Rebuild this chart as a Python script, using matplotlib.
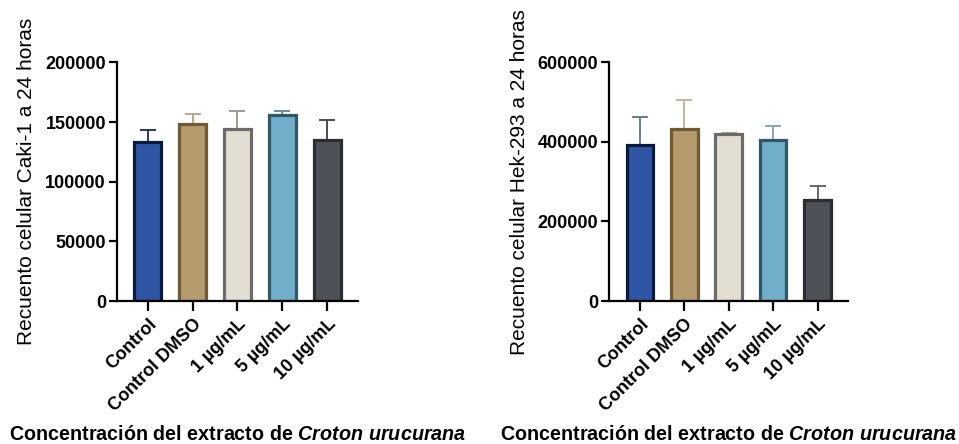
import numpy as np
import matplotlib.pyplot as plt

plt.rcParams['font.family'] = ['Liberation Sans', 'DejaVu Sans']
plt.rcParams['mathtext.fontset'] = 'custom'
plt.rcParams['mathtext.it'] = 'Liberation Sans:italic:bold'
plt.rcParams['mathtext.rm'] = 'Liberation Sans:bold'
plt.rcParams['mathtext.bf'] = 'Liberation Sans:bold'

groups = ['Control', 'Control DMSO', '1 µg/mL', '5 µg/mL', '10 µg/mL']

caki_mean = [133000, 148000, 144000, 155500, 135000]
caki_sem = [10000, 9000, 15000, 3500, 17000]

hek_mean = [391000, 432000, 421000, 405000, 255000]
hek_sem = [72000, 74000, 2000, 35000, 35000]

fill_colors = ['#2E56A4', '#B59A6D', '#E2DED3', '#70AECA', '#4E5157']
edge_colors = ['#0B1A3A', '#6F5A34', '#6C6B68', '#315866', '#2B2D30']
err_colors_left = ['#2A3B5E', '#B9A888', '#A09C95', '#6E8C98', '#4A4B4E']
err_colors_right = ['#6A7A98', '#C4B49A', '#A8A49C', '#8AA6B1', '#66676A']


def draw_panel(ax, means, errs, err_colors, ymax, yticks, ylabel):
    x = np.arange(len(groups))
    for i in range(len(groups)):
        ax.errorbar(x[i], means[i], yerr=[[0], [errs[i]]], color=err_colors[i],
                    elinewidth=1.4, capsize=5.5, capthick=1.4, zorder=1)
    ax.bar(x, means, width=0.6, color=fill_colors, edgecolor=edge_colors,
           linewidth=2.3, zorder=2)

    ax.set_xlim(-0.69, 4.69)
    ax.set_ylim(0, ymax)
    ax.set_yticks(yticks)
    ax.set_yticklabels([str(t) for t in yticks], fontweight='bold', fontsize=13)
    ax.set_xticks(x)
    ax.set_xticklabels(groups, rotation=45, ha='right', rotation_mode='anchor',
                       fontweight='bold', fontsize=13)

    for side in ['top', 'right']:
        ax.spines[side].set_visible(False)
    for side in ['left', 'bottom']:
        ax.spines[side].set_linewidth(1.6)
    ax.tick_params(axis='y', length=6, width=1.6, pad=2)
    ax.tick_params(axis='x', length=7.5, width=1.6, pad=3)

    ax.set_ylabel(ylabel, fontsize=15)
    ax.yaxis.set_label_coords(-0.335, 0.5)
    ax.set_xlabel('Concentración del extracto de $\\it{Croton\\ urucurana}$',
                  fontsize=14.2, fontweight='bold')
    ax.xaxis.set_label_coords(0.5, -0.52)


fig = plt.figure(figsize=(9.59, 4.44), dpi=100)
ax1 = fig.add_axes([0.122, 0.322, 0.2513, 0.5376])
ax2 = fig.add_axes([0.6353, 0.322, 0.2492, 0.5376])

draw_panel(ax1, caki_mean, caki_sem, err_colors_left, 200000,
           [0, 50000, 100000, 150000, 200000],
           'Recuento celular Caki-1 a 24 horas')
draw_panel(ax2, hek_mean, hek_sem, err_colors_right, 600000,
           [0, 200000, 400000, 600000],
           'Recuento celular Hek-293 a 24 horas')

fig.savefig('out.png', dpi=100)
